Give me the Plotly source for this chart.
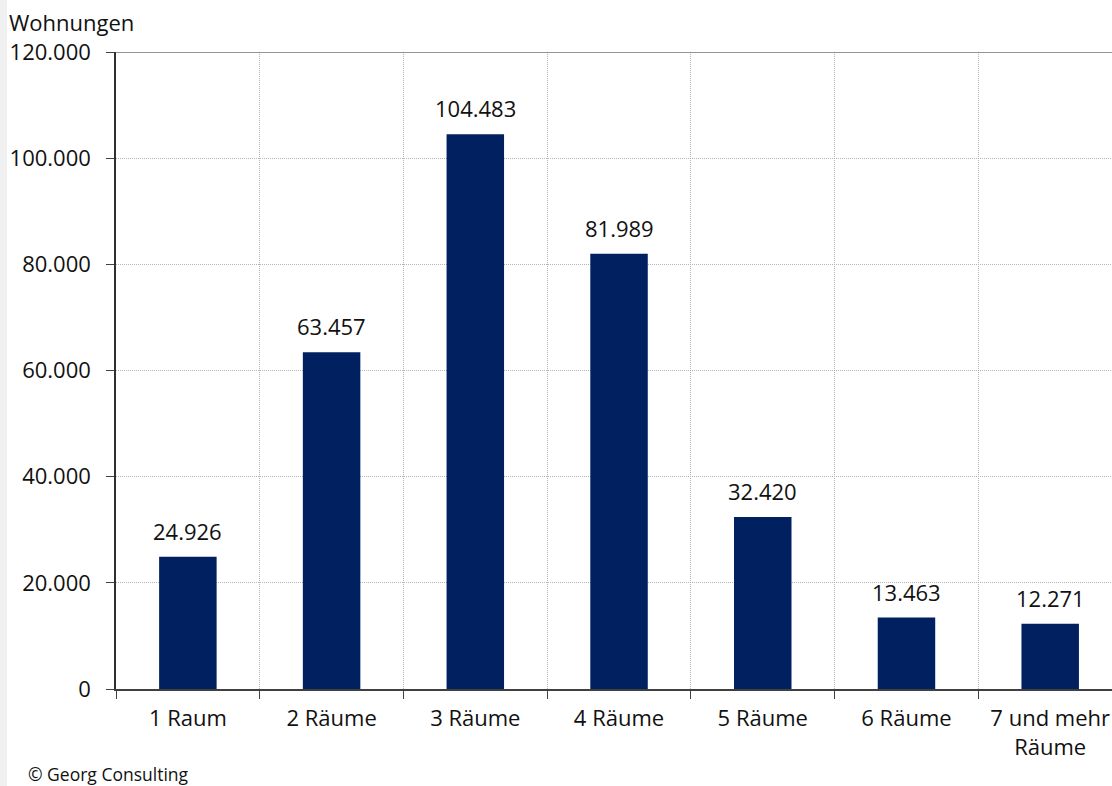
import plotly.graph_objects as go

categories = ["1 Raum", "2 Räume", "3 Räume", "4 Räume", "5 Räume", "6 Räume", "7 und mehr<br>Räume"]
values = [24926, 63457, 104483, 81989, 32420, 13463, 12271]
y_ticks = [0, 20000, 40000, 60000, 80000, 100000, 120000]

FONT = "Open Sans"
FS = 22
fig = go.Figure()
fig.add_trace(go.Bar(
    x=categories, y=values, width=0.4,
    marker=dict(color="#00205F", line=dict(width=0)),
    hoverinfo="skip",
))
for c, v in zip(categories, values):
    fig.add_annotation(x=c, y=v, text=f"{v:,}".replace(",", "."), showarrow=False,
                       yanchor="bottom", yshift=9, font=dict(size=FS, color="#111", family=FONT))

fig.update_layout(
    width=1112, height=786,
    margin=dict(l=116, r=0, t=52, b=97),
    paper_bgcolor="white", plot_bgcolor="white",
    separators=",.",
    showlegend=False,
    font=dict(family=FONT, size=FS, color="#111"),
    xaxis=dict(
        type="category", range=[-0.5, 6.43],
        tickson="boundaries", ticks="outside", ticklen=8, tickcolor="#404040",
        showgrid=True, gridcolor="#b4b4b4", griddash="1px,1px", gridwidth=1,
        showline=True, linecolor="#404040", linewidth=1.5,
        tickfont=dict(size=FS, family=FONT, color="#111"),
        ticklabelstandoff=9,
        fixedrange=True,
    ),
    yaxis=dict(
        range=[0, 120000], tickvals=y_ticks, tickformat=",",
        ticks="outside", ticklen=8, tickcolor="#404040",
        showgrid=True, gridcolor="#b4b4b4", griddash="1px,1px", gridwidth=1,
        showline=True, linecolor="#303030", linewidth=1.5,
        zeroline=False, ticklabelstandoff=11,
        tickfont=dict(size=FS, family=FONT, color="#111"),
        fixedrange=True,
    ),
    shapes=[
        dict(type="line", xref="paper", yref="y", x0=0, x1=1, y0=120000, y1=120000,
             line=dict(color="#707070", width=1.5)),
        dict(type="rect", xref="paper", yref="paper", x0=-116/996, x1=-109/996, y0=-97/637, y1=1+52/637,
             fillcolor="#f0f0f0", line=dict(width=0), layer="below"),
    ],
)
fig.add_annotation(xref="paper", yref="paper", x=-109/996, y=1+52/637, yshift=-5,
                   text="Wohnungen", showarrow=False, xanchor="left", yanchor="top",
                   font=dict(size=FS, family=FONT, color="#111"))
fig.add_annotation(xref="paper", yref="paper", x=-90/996, y=-97/637, yshift=-2,
                   text="© Georg Consulting", showarrow=False, xanchor="left", yanchor="bottom",
                   font=dict(size=17.5, family=FONT, color="#111"))
fig.write_html("out.html")
